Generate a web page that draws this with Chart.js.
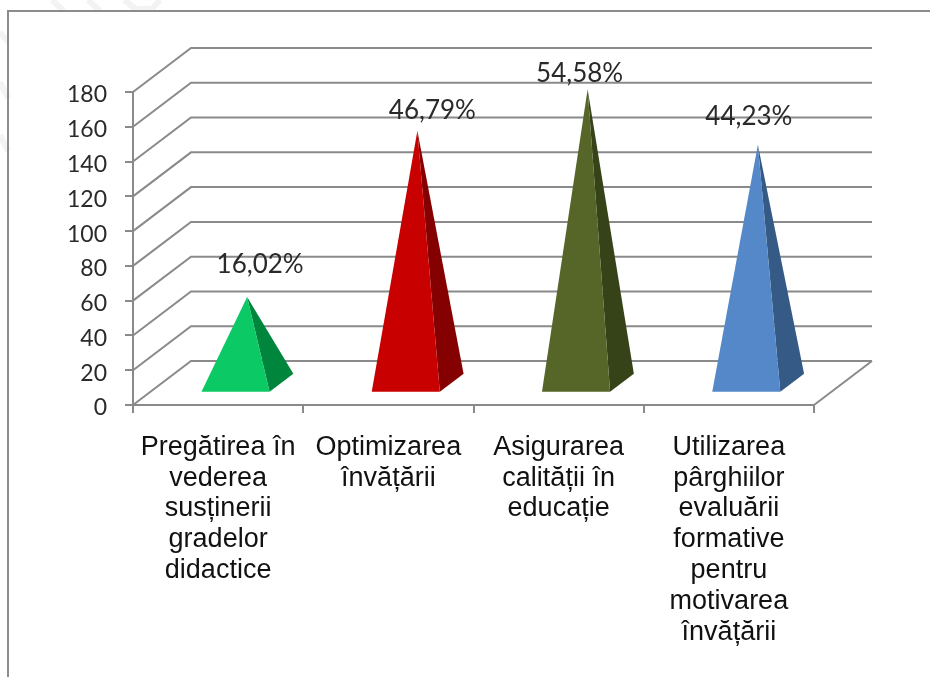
<!DOCTYPE html>
<html lang="ro">

<head>
    <meta charset="UTF-8">
    <title>Pyramid chart</title>
    <script src="https://cdn.jsdelivr.net/npm/chart.js"></script>
    <style>
        html, body { margin: 0; padding: 0; background: #fff; overflow: hidden; }
        canvas { display: block; }
    </style>
</head>

<body>
    <canvas id="pyramids" width="930" height="677"></canvas>

    <script>
        // data
        var categories = [
            ['Pregătirea în', 'vederea', 'susținerii', 'gradelor', 'didactice'],
            ['Optimizarea', 'învățării'],
            ['Asigurarea', 'calității în', 'educație'],
            ['Utilizarea', 'pârghiilor', 'evaluării', 'formative', 'pentru', 'motivarea', 'învățării']
        ];
        var values = [49.5, 145, 169, 137];
        var percentLabels = ['16,02%', '46,79%', '54,58%', '44,23%'];

        var frontColors = ['#0BC964', '#C80000', '#556628', '#5588C9'];
        var sideColors = ['#00853C', '#850000', '#364318', '#355A85'];

        // the labels were moved by hand in the original chart
        var labelShift = [[13, -33], [15, -21], [-8, -17], [-9, -29]];

        // faint scraps of a watermark around the frame corner
        var watermarkStrokes = [
            [52, 0, 64, 11], [88, 0, 100, 11], [124, 0, 136, 9], [136, 9, 152, 9], [152, 9, 160, 0],
            [0, 32, 8, 42], [0, 82, 8, 98], [0, 135, 8, 151]
        ];

        var depthX = 58, depthY = 44;
        var lineColor = '#8a8a8a';

        var pyramid3d = {
            id: 'pyramid3d',
            beforeDraw: function (chart) {
                var c = chart.ctx;
                c.save();
                c.strokeStyle = '#f3f3f3';
                c.lineWidth = 6;
                watermarkStrokes.forEach(function (s) {
                    c.beginPath();
                    c.moveTo(s[0], s[1]);
                    c.lineTo(s[2], s[3]);
                    c.stroke();
                });
                c.strokeStyle = '#8c8c8c';
                c.lineWidth = 2;
                c.beginPath();
                c.moveTo(8, 677);
                c.lineTo(8, 11);
                c.lineTo(930, 11);
                c.stroke();
                c.restore();
            },
            beforeDatasetsDraw: function (chart) {
                var c = chart.ctx, a = chart.chartArea, y = chart.scales.y;
                c.save();
                c.strokeStyle = lineColor;
                c.lineWidth = 2;
                y.ticks.forEach(function (t) {
                    var py = y.getPixelForValue(t.value);
                    c.beginPath();
                    c.moveTo(a.left, py);
                    c.lineTo(a.left + depthX, py - depthY);
                    c.lineTo(a.right + depthX, py - depthY);
                    c.stroke();
                });
                c.beginPath();
                c.moveTo(a.right, a.bottom);
                c.lineTo(a.right + depthX, a.bottom - depthY);
                c.stroke();
                c.restore();
            },
            // pyramids replace the flat bars
            beforeDatasetDraw: function (chart, args) {
                var c = chart.ctx, bottom = chart.chartArea.bottom;
                var bars = chart.getDatasetMeta(args.index).data;
                bars.forEach(function (bar, i) {
                    var half = bar.width / 2;
                    var frontX = bar.x + depthX * 0.3, frontY = bottom - depthY * 0.3;
                    var backShiftX = depthX * 0.41, backShiftY = depthY * 0.41;
                    var apexX = bar.x + depthX * 0.5, apexY = bar.y - depthY * 0.5;

                    c.fillStyle = sideColors[i];
                    c.beginPath();
                    c.moveTo(frontX + half, frontY);
                    c.lineTo(frontX + half + backShiftX, frontY - backShiftY);
                    c.lineTo(apexX, apexY);
                    c.closePath();
                    c.fill();

                    c.fillStyle = frontColors[i];
                    c.beginPath();
                    c.moveTo(frontX - half, frontY);
                    c.lineTo(frontX + half, frontY);
                    c.lineTo(apexX, apexY);
                    c.closePath();
                    c.fill();
                });
                return false;
            },
            afterDatasetsDraw: function (chart) {
                var c = chart.ctx;
                var bars = chart.getDatasetMeta(0).data;
                c.save();
                c.font = '26px Lato';
                c.fillStyle = '#2a2a2a';
                c.textAlign = 'center';
                c.textBaseline = 'middle';
                bars.forEach(function (bar, i) {
                    var apexX = bar.x + depthX * 0.5, apexY = bar.y - depthY * 0.5;
                    c.fillText(percentLabels[i], apexX + labelShift[i][0], apexY + labelShift[i][1] + 1);
                });
                c.restore();
            }
        };

        new Chart(document.getElementById('pyramids'), {
            type: 'bar',
            data: {
                labels: categories,
                datasets: [{
                    data: values,
                    backgroundColor: frontColors,
                    barPercentage: 0.4,
                    categoryPercentage: 1
                }]
            },
            options: {
                responsive: false,
                animation: false,
                layout: { padding: { top: 92, right: 116, left: 0, bottom: 0 } },
                plugins: { legend: { display: false }, tooltip: { enabled: false } },
                scales: {
                    x: {
                        afterFit: function (scale) { scale.height = 272; },
                        grid: { drawOnChartArea: false, tickLength: 8, color: lineColor, lineWidth: 2 },
                        border: { color: lineColor, width: 2 },
                        ticks: {
                            autoSkip: false,
                            maxRotation: 0,
                            padding: 19,
                            color: '#111',
                            font: { family: 'Liberation Sans', size: 27, lineHeight: 1.14 }
                        }
                    },
                    y: {
                        min: 0,
                        max: 180,
                        afterFit: function (scale) { scale.width = 133; },
                        grid: { drawOnChartArea: false, tickLength: 8, color: lineColor, lineWidth: 2 },
                        border: { color: lineColor, width: 2 },
                        ticks: {
                            stepSize: 20,
                            padding: 18,
                            labelOffset: 3,
                            color: '#2a2a2a',
                            font: { family: 'Lato', size: 23 }
                        }
                    }
                }
            },
            plugins: [pyramid3d]
        });
    </script>

</body>

</html>
